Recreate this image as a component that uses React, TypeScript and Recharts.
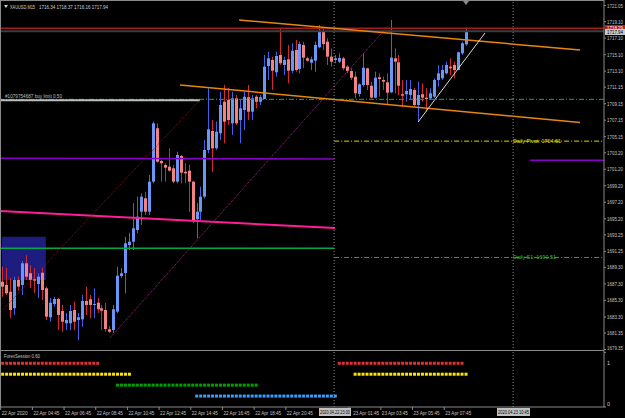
import {
  ComposedChart,
  ScatterChart,
  Bar,
  Scatter,
  XAxis,
  YAxis,
  ReferenceLine,
  ReferenceArea,
} from 'recharts';

// XAUUSD M15, 22-23 Apr 2020, bar index 0 = first visible bar
const opens = [
  1687.57, 1687.17, 1686.36, 1684.35, 1687.78, 1687.17, 1689.8, 1688.59, 1687.86, 1687.29,
  1688.66, 1686.77, 1683.26, 1684.87, 1685.47, 1684.02, 1682.53, 1682.53, 1684.14, 1682.93,
  1683.0, 1685.23, 1685.44, 1684.75, 1685.03, 1684.35, 1684.14, 1681.8, 1681.72, 1683.94,
  1688.26, 1688.63, 1692.02, 1692.42, 1693.84, 1696.06, 1697.68, 1696.06, 1699.7, 1706.17,
  1702.2, 1701.72, 1701.51, 1701.32, 1699.7, 1702.81, 1700.9, 1701.03, 1699.7, 1695.14,
  1696.06, 1697.88, 1703.54, 1705.84, 1703.74, 1705.56, 1709.39, 1709.6, 1706.77, 1709.8,
  1707.17, 1708.39, 1709.93, 1708.18, 1710.0, 1709.39, 1709.72, 1713.72, 1714.45, 1712.96,
  1715.05, 1713.84, 1714.53, 1713.15, 1715.66, 1713.36, 1716.27, 1714.65, 1714.12, 1714.36,
  1715.99, 1717.88, 1716.67, 1714.85, 1714.45, 1714.24, 1714.65, 1713.64, 1713.11, 1712.42,
  1710.33, 1711.42, 1713.44, 1711.33, 1709.88, 1712.35, 1712.02, 1711.74, 1710.53, 1714.65,
  1714.17, 1710.29, 1710.29, 1710.2, 1710.81, 1708.99, 1710.29, 1709.88, 1709.8, 1710.0,
  1712.02, 1712.23, 1712.83, 1713.64, 1713.84, 1713.23, 1715.26, 1716.34,
];
const highs = [
  1689.39, 1689.23, 1688.02, 1688.18, 1688.2, 1690.08, 1690.8, 1689.6, 1689.23, 1688.6,
  1689.23, 1686.97, 1685.6, 1685.75, 1685.6, 1684.75, 1683.8, 1684.75, 1685.15, 1683.8,
  1685.96, 1686.97, 1685.96, 1686.77, 1685.6, 1684.75, 1685.0, 1682.2, 1684.75, 1689.39,
  1689.23, 1693.03, 1693.5, 1697.08, 1697.88, 1698.29, 1698.48, 1700.51, 1706.97, 1706.77,
  1702.33, 1701.93, 1703.74, 1701.72, 1703.33, 1702.93, 1701.93, 1701.72, 1699.8, 1697.08,
  1699.09, 1704.75, 1711.02, 1707.17, 1706.97, 1710.6, 1711.42, 1711.05, 1710.6, 1710.2,
  1709.6, 1710.6, 1711.42, 1710.2, 1710.2, 1710.2, 1715.05, 1715.45, 1714.85, 1715.45,
  1718.29, 1714.85, 1716.27, 1716.47, 1716.87, 1716.67, 1716.67, 1714.85, 1714.85, 1716.67,
  1718.69, 1718.48, 1717.08, 1715.86, 1715.05, 1715.26, 1714.85, 1713.84, 1713.44, 1713.03,
  1711.62, 1715.26, 1713.5, 1711.82, 1713.03, 1712.83, 1712.42, 1712.83, 1719.3, 1715.86,
  1715.05, 1712.02, 1712.02, 1712.02, 1711.05, 1711.82, 1711.62, 1711.02, 1711.02, 1712.23,
  1713.84, 1713.84, 1714.24, 1714.65, 1714.24, 1715.45, 1716.67, 1718.37,
];
const lows = [
  1685.75, 1685.96, 1683.17, 1683.54, 1686.5, 1685.96, 1687.78, 1686.8, 1686.2, 1685.6,
  1685.35, 1682.93, 1682.72, 1684.54, 1681.72, 1681.5, 1681.7, 1681.7, 1681.7, 1680.5,
  1682.1, 1683.54, 1683.13, 1683.17, 1683.8, 1681.72, 1681.5, 1681.35, 1681.32, 1683.74,
  1688.0, 1686.16, 1691.4, 1691.41, 1693.44, 1694.45, 1695.66, 1695.66, 1699.5, 1702.0,
  1699.7, 1699.7, 1700.9, 1699.5, 1699.5, 1699.5, 1699.5, 1696.06, 1694.65, 1692.83,
  1695.05, 1697.68, 1703.14, 1700.9, 1703.54, 1704.75, 1704.35, 1706.57, 1705.36, 1706.57,
  1704.35, 1705.96, 1707.17, 1707.17, 1708.59, 1708.99, 1709.72, 1712.02, 1710.81, 1712.42,
  1713.84, 1712.63, 1711.62, 1712.83, 1713.03, 1712.83, 1713.44, 1714.24, 1713.23, 1713.03,
  1715.86, 1715.66, 1713.84, 1713.64, 1714.05, 1714.05, 1713.23, 1712.83, 1712.02, 1709.8,
  1710.0, 1711.21, 1710.81, 1709.8, 1709.8, 1710.0, 1710.81, 1708.99, 1710.41, 1710.41,
  1710.2, 1708.79, 1709.39, 1709.6, 1708.79, 1706.97, 1709.39, 1708.18, 1709.6, 1709.8,
  1711.21, 1712.02, 1712.7, 1712.63, 1712.23, 1713.23, 1715.05, 1716.16,
];
const closes = [
  1686.97, 1686.16, 1684.14, 1687.78, 1686.97, 1689.8, 1688.18, 1687.78, 1687.7, 1688.18,
  1686.57, 1683.33, 1685.03, 1685.47, 1683.54, 1682.72, 1682.93, 1684.02, 1682.72, 1683.26,
  1685.23, 1684.75, 1684.75, 1684.87, 1684.23, 1684.06, 1681.84, 1681.5, 1684.23, 1688.3,
  1688.59, 1692.23, 1692.42, 1694.04, 1695.45, 1697.88, 1696.06, 1699.7, 1706.77, 1702.12,
  1701.93, 1701.39, 1701.03, 1699.7, 1702.93, 1700.79, 1700.71, 1699.7, 1695.05, 1696.06,
  1697.88, 1703.54, 1706.05, 1703.74, 1705.75, 1708.99, 1706.97, 1707.17, 1709.8, 1706.77,
  1708.59, 1710.0, 1708.18, 1709.8, 1709.39, 1709.93, 1713.64, 1714.65, 1713.15, 1714.93,
  1714.05, 1714.45, 1713.15, 1715.57, 1713.23, 1716.39, 1714.73, 1714.36, 1714.53, 1716.27,
  1717.88, 1716.39, 1714.85, 1714.24, 1714.65, 1714.69, 1713.44, 1713.11, 1712.3, 1710.41,
  1711.5, 1713.51, 1711.42, 1709.88, 1712.3, 1712.14, 1711.82, 1710.48, 1714.73, 1714.24,
  1711.33, 1710.12, 1710.69, 1710.93, 1708.99, 1710.2, 1709.88, 1709.72, 1710.41, 1712.02,
  1712.83, 1713.23, 1713.84, 1713.44, 1713.23, 1715.38, 1716.47, 1717.94,
];

const priceTicks = [
  1721.05, 1719.1, 1717.1, 1715.1, 1713.1, 1711.15, 1709.15, 1707.15, 1705.15, 1703.2, 1701.2,
  1699.2, 1697.2, 1695.2, 1693.25, 1691.25, 1689.3, 1687.3, 1685.3, 1683.3, 1681.35, 1679.35,
];
// the 22:45 label sits under the period-separator box, as in the terminal
const timeTickBars = [0, 8, 16, 24, 32, 40, 48, 56, 64, 72, 88, 96, 104, 112];
const timeTickLabels = [
  '22 Apr 2020', '22 Apr 04:45', '22 Apr 06:45', '22 Apr 08:45', '22 Apr 10:45',
  '22 Apr 12:45', '22 Apr 14:45', '22 Apr 16:45', '22 Apr 18:45', '22 Apr 20:45',
  '23 Apr 01:45', '23 Apr 03:45', '23 Apr 05:45', '23 Apr 07:45',
];

// objects drawn on the chart: [bar index, price]
const upperChannel = [[59.7, 1719.3], [145.8, 1715.66]];
const lowerChannel = [[44.8, 1711.42], [145.8, 1706.86]];
const pinkLine = [[-0.7, 1696.14], [83.9, 1694.08]];
const darkRedLine = [[-0.7, 1683.78], [49.8, 1709.6]];
const magentaLine = [[27.1, 1680.75], [97.3, 1718.57]];
const whiteLine = [[104.9, 1706.93], [121.8, 1717.72]];
const buyLimitLine = [[-0.7, 1709.56], [49.8, 1709.56]];
const boxArea = [[-0.2, 1687.78], [10.9, 1693.03]];
const purpleLeft = [[-0.7, 1702.55], [83.7, 1702.45]];
const purpleRight = [[133.2, 1702.3], [151.9, 1702.3]];
const greenLevel = 1691.62;
const greenDashLevel = 1709.68;
const askPrice = 1718.29;
const bidPrice = 1717.94;
const dailyPivot = 1704.61;
const dailyS1 = 1690.51;
const separators = [83.7, 128.9];

// ForexSession rows: [first bar, last bar]
const sydneySpans = [[0, 24], [85, 116]];
const tokyoSpans = [[0, 32], [89, 117]];
const londonSpans = [[29, 64]];
const newYorkSpans = [[49, 84]];

const X_DOMAIN = [-0.677, 151.85];
const Y_DOMAIN = [1679.17, 1721.72];
const FONT = 'Liberation Sans, Arial, sans-serif';

const candles = opens.map((o, i) => ({
  i,
  open: o,
  high: highs[i],
  low: lows[i],
  close: closes[i],
  range: [lows[i], highs[i]],
}));

const spanPoints = (spans: number[][], level: number) =>
  spans.flatMap(([a, b]) => Array.from({ length: b - a + 1 }, (_, k) => ({ x: a + k, y: level })));

function Candle(props: any) {
  const { x, y, width, height, payload } = props;
  if (x == null || y == null) return null;
  const top = Math.min(y, y + height);
  const h = Math.abs(height);
  const span = payload.high - payload.low || 1;
  const k = h / span;
  const yO = top + (payload.high - payload.open) * k;
  const yC = top + (payload.high - payload.close) * k;
  const up = payload.close >= payload.open;
  const cx = Math.round(x + width / 2);
  const bTop = Math.min(yO, yC);
  const bH = Math.max(1, Math.abs(yC - yO));
  return (
    <g>
      <rect x={cx} y={top} width={1} height={Math.max(1, h)} fill={up ? '#3f63e8' : '#d42a2a'} />
      <rect x={cx - 1} y={bTop} width={3} height={bH} fill={up ? '#6a96f5' : '#f58282'} />
    </g>
  );
}

function PriceTick({ x, y, payload }: any) {
  return (
    <text
      x={x}
      y={y > 345 ? y : y + 2}
      fontSize={5}
      fill="#c4c4c4"
      fontFamily={FONT}
      textLength={16}
      lengthAdjust="spacingAndGlyphs"
    >
      {Number(payload.value).toFixed(2)}
    </text>
  );
}

function LevelTick({ x, y, payload }: any) {
  return (
    <text x={x} y={y + (payload.value === 1 ? 5 : -1)} fontSize={5.5} fill="#c4c4c4" fontFamily={FONT}>
      {payload.value}
    </text>
  );
}

function TimeTick({ x, y, payload }: any) {
  const bar = Math.round(payload.value + 0.5);
  const idx = timeTickBars.indexOf(bar);
  return (
    <text
      x={bar === 88 ? x + 4 : x + 1}
      y={y + 5}
      fontSize={5}
      fill="#c4c4c4"
      fontFamily={FONT}
      textLength={26}
      lengthAdjust="spacingAndGlyphs"
    >
      {timeTickLabels[idx] ?? ''}
    </text>
  );
}

function Square(props: any) {
  const { cx, cy, fill } = props;
  if (cx == null || cy == null) return null;
  return <rect x={cx - 1.5} y={cy - 1.5} width={3} height={3} fill={fill} />;
}

const seg = (p: number[][]) => [
  { x: p[0][0], y: p[0][1] },
  { x: p[1][0], y: p[1][1] },
];

function Label({ x, y, w, color, children }: any) {
  return (
    <text x={x} y={y} fontSize={5} fill={color} fontFamily={FONT} textLength={w} lengthAdjust="spacingAndGlyphs">
      {children}
    </text>
  );
}

export default function App() {
  return (
    <div
      style={{
        position: 'absolute',
        left: 0,
        top: 0,
        width: 625,
        height: 418,
        background: '#000',
        overflow: 'hidden',
      }}
    >
      <ComposedChart
        width={625}
        height={351}
        data={candles}
        margin={{ top: 0, right: 0, left: 0, bottom: 0 }}
      >
        <XAxis dataKey="i" type="number" domain={X_DOMAIN} allowDataOverflow hide />
        <YAxis
          orientation="right"
          width={21}
          domain={Y_DOMAIN}
          allowDataOverflow
          ticks={priceTicks}
          interval={0}
          tick={<PriceTick />}
          tickSize={2}
          tickMargin={1}
          axisLine={{ stroke: '#8a8a8a' }}
          tickLine={{ stroke: '#8a8a8a' }}
        />
        <ReferenceArea
          x1={boxArea[0][0]}
          x2={boxArea[1][0]}
          y1={boxArea[0][1]}
          y2={boxArea[1][1]}
          fill="#20208e"
          fillOpacity={0.9}
          stroke="none"
          ifOverflow="hidden"
        />
        <ReferenceLine y={askPrice} stroke="#a51d1d" strokeWidth={1.5} ifOverflow="hidden" />
        <ReferenceLine y={bidPrice} stroke="#3c3c3c" strokeWidth={2} ifOverflow="hidden" />
        <ReferenceLine y={greenDashLevel} stroke="#2f9a5a" strokeDasharray="5 2 1 2" ifOverflow="hidden" />
        <ReferenceLine segment={seg(buyLimitLine)} stroke="#bdbdbd" strokeWidth={2} ifOverflow="hidden" />
        <ReferenceLine segment={seg(purpleLeft)} stroke="#8a00c8" strokeWidth={1.5} ifOverflow="hidden" />
        <ReferenceLine segment={seg(purpleRight)} stroke="#8a00c8" strokeWidth={1.5} ifOverflow="hidden" />
        <ReferenceLine
          segment={[{ x: X_DOMAIN[0], y: greenLevel }, { x: separators[0], y: greenLevel }]}
          stroke="#00a84a"
          strokeWidth={1.5}
          ifOverflow="hidden"
        />
        <ReferenceLine
          segment={[{ x: separators[0], y: dailyPivot }, { x: X_DOMAIN[1], y: dailyPivot }]}
          stroke="#d8d800"
          strokeDasharray="5 2 1 2"
          ifOverflow="hidden"
        />
        <ReferenceLine
          segment={[{ x: separators[0], y: dailyS1 }, { x: X_DOMAIN[1], y: dailyS1 }]}
          stroke="#3f9a3f"
          strokeDasharray="5 2 1 2"
          ifOverflow="hidden"
        />
        <ReferenceLine segment={seg(pinkLine)} stroke="#ff1e96" strokeWidth={2} ifOverflow="hidden" />
        <ReferenceLine segment={seg(darkRedLine)} stroke="#8a1616" strokeDasharray="1 1" ifOverflow="hidden" />
        <ReferenceLine segment={seg(magentaLine)} stroke="#b0248c" strokeDasharray="1 1" ifOverflow="hidden" />
        <ReferenceLine segment={seg(upperChannel)} stroke="#e8860c" strokeWidth={1.5} ifOverflow="hidden" />
        <ReferenceLine segment={seg(lowerChannel)} stroke="#e8860c" strokeWidth={1.5} ifOverflow="hidden" />
        <ReferenceLine segment={seg(whiteLine)} stroke="#d8d8d8" ifOverflow="hidden" />
        {separators.map((s) => (
          <ReferenceLine key={s} x={s} stroke="#8a8a8a" strokeDasharray="1 2" ifOverflow="hidden" />
        ))}
        <Bar dataKey="range" barSize={4} shape={<Candle />} isAnimationActive={false} />
      </ComposedChart>

      <div style={{ position: 'absolute', left: 0, top: 351 }}>
        <ScatterChart width={625} height={67} margin={{ top: 0, right: 0, left: 0, bottom: 0 }}>
          <XAxis
            dataKey="x"
            type="number"
            domain={X_DOMAIN}
            allowDataOverflow
            ticks={timeTickBars.map((b) => b - 0.5)}
            interval={0}
            tick={<TimeTick />}
            height={11}
            tickSize={3}
            tickMargin={0}
            axisLine={{ stroke: '#8a8a8a' }}
            tickLine={{ stroke: '#8a8a8a' }}
          />
          <YAxis
            dataKey="y"
            orientation="right"
            width={21}
            domain={[0, 1.025]}
            allowDataOverflow
            ticks={[0, 1]}
            tick={<LevelTick />}
            tickSize={2}
            tickMargin={1}
            axisLine={{ stroke: '#8a8a8a' }}
            tickLine={{ stroke: '#8a8a8a' }}
          />
          {separators.map((s) => (
            <ReferenceLine key={s} x={s} stroke="#8a8a8a" strokeDasharray="1 2" ifOverflow="hidden" />
          ))}
          <Scatter data={spanPoints(sydneySpans, 0.8)} fill="#d83434" shape={<Square />} isAnimationActive={false} />
          <Scatter data={spanPoints(tokyoSpans, 0.6)} fill="#ffe600" shape={<Square />} isAnimationActive={false} />
          <Scatter data={spanPoints(londonSpans, 0.4)} fill="#00a000" shape={<Square />} isAnimationActive={false} />
          <Scatter data={spanPoints(newYorkSpans, 0.2)} fill="#3a9cff" shape={<Square />} isAnimationActive={false} />
        </ScatterChart>
      </div>

      {/* frame, markers and text annotations */}
      <svg width={625} height={418} style={{ position: 'absolute', left: 0, top: 0, pointerEvents: 'none' }}>
        <rect x={0} y={0} width={604} height={1} fill="#8a8a8a" />
        <rect x={0} y={0} width={1} height={407} fill="#8a8a8a" />
        <rect x={0} y={350} width={604} height={1} fill="#8a8a8a" />
        <polygon points="463,1 469,1 466,5" fill="#8a8a8a" />
        <polygon points="4,5 8,5 6,8" fill="#d0d0d0" />

        <Label x={10} y={9} w={25} color="#d0d0d0">XAUUSD,M15</Label>
        <Label x={39} y={9} w={69} color="#d0d0d0">1716.34 1718.37 1716.16 1717.94</Label>
        <Label x={5} y={98} w={57} color="#bdbdbd">#1079754687 buy limit 0.50</Label>
        <Label x={513} y={143} w={48} color="#e0e000">Daily Pivot: 1704.61</Label>
        <Label x={513} y={259} w={43} color="#3fae3f">Daily S1: 1690.51</Label>
        <Label x={4} y={358} w={36} color="#c4c4c4">ForexSession 0.60</Label>

        <rect x={605} y={25} width={20} height={5} fill="#b42020" />
        <Label x={607} y={29.5} w={16} color="#fff">1718.29</Label>
        <rect x={605} y={29} width={20} height={6} fill="#c8c8c8" />
        <Label x={607} y={34} w={16} color="#000">1717.94</Label>

        <rect x={319} y={408} width={32} height={8} fill="#c0c0c0" />
        <Label x={320} y={414} w={30} color="#000">2020.04.22 23:00</Label>
        <rect x={497} y={408} width={33} height={8} fill="#c0c0c0" />
        <Label x={498} y={414} w={31} color="#000">2020.04.23 10:45</Label>
      </svg>
    </div>
  );
}
